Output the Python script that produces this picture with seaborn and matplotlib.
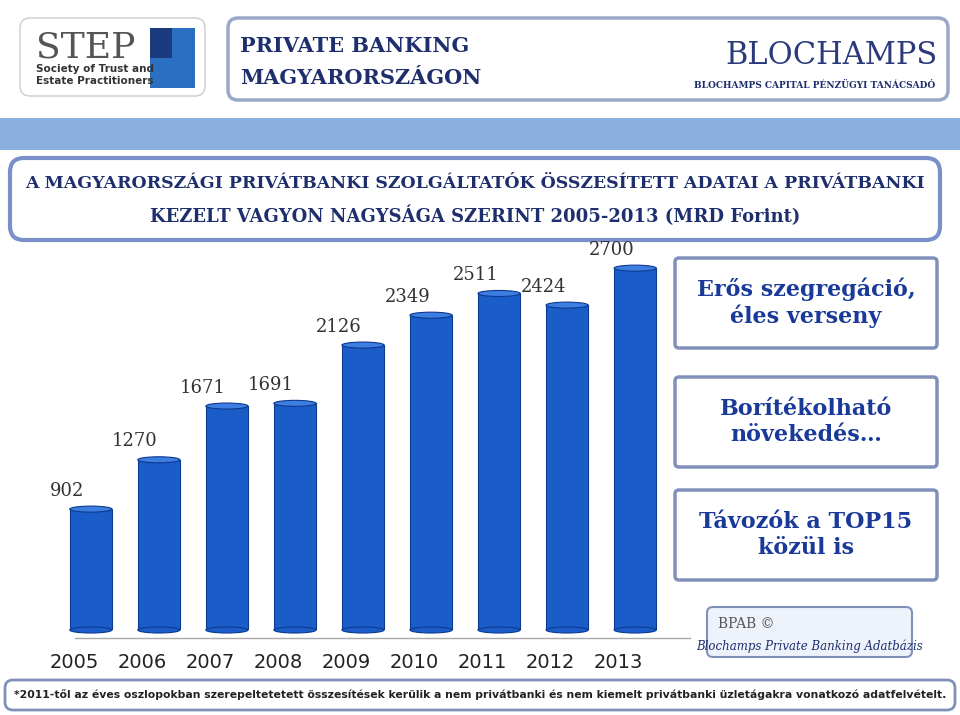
import matplotlib
matplotlib.use("Agg")
import matplotlib.pyplot as plt
import seaborn as sns
import pandas as pd
from matplotlib.patches import FancyBboxPatch, Ellipse, Rectangle

years = ["2005","2006","2007","2008","2009","2010","2011","2012","2013"]
values = [902,1270,1671,1691,2126,2349,2511,2424,2700]
side_notes = ["Erős szegregáció,\néles verseny", "Borítékolható\nnövekedés…", "Távozók a TOP15\nközül is"]

W, H = 960, 715
fig = plt.figure(figsize=(9.6, 7.15), dpi=100)
bg = fig.add_axes([0, 0, 1, 1]); bg.set_xlim(0, W); bg.set_ylim(H, 0); bg.axis("off")
navy = "#1f2f6e"

def rbox(x, y, w, h, fc="white", ec="#8a9cc8", lw=2, r=10):
    bg.add_patch(FancyBboxPatch((x, y), w, h, boxstyle=f"round,pad=0,rounding_size={r}",
                                fc=fc, ec=ec, lw=lw))

# header
rbox(20, 18, 185, 78, ec="#cccccc", lw=1)
bg.text(36, 47, "STEP", fontsize=26, family="DejaVu Serif", color="#555", va="center")
bg.text(36, 75, "Society of Trust and\nEstate Practitioners", fontsize=7.5, color="#333", va="center", weight="bold")
bg.add_patch(Rectangle((150, 28), 45, 60, fc="#2a6fc0"))
bg.add_patch(Rectangle((150, 28), 22, 30, fc="#1b3a80"))
rbox(228, 18, 720, 82, ec="#9aa8c8", lw=2.5)
bg.text(240, 46, "PRIVATE BANKING", fontsize=15, weight="bold", color=navy, family="DejaVu Serif", va="center")
bg.text(240, 78, "MAGYARORSZÁGON", fontsize=15, weight="bold", color=navy, family="DejaVu Serif", va="center")
bg.text(725, 55, "BLOCHAMPS", fontsize=22, color="#2a3a7a", family="DejaVu Serif", va="center")
bg.text(935, 88, "BLOCHAMPS CAPITAL PÉNZÜGYI TANÁCSADÓ", fontsize=6.5, color=navy, ha="right", family="DejaVu Serif", weight="bold")
bg.add_patch(Rectangle((0, 118), W, 32, fc="#8ab0e0", ec="none"))
rbox(10, 158, 930, 82, ec="#7a90c8", lw=3, r=14)
bg.text(475, 183, "A MAGYARORSZÁGI PRIVÁTBANKI SZOLGÁLTATÓK ÖSSZESÍTETT ADATAI A PRIVÁTBANKI",
        fontsize=12.5, weight="bold", color=navy, ha="center", va="center", family="DejaVu Serif")
bg.text(475, 216, "KEZELT VAGYON NAGYSÁGA SZERINT 2005-2013 (MRD Forint)",
        fontsize=13, weight="bold", color=navy, ha="center", va="center", family="DejaVu Serif")

# side boxes
for (y, t) in zip([258, 377, 490], side_notes):
    rbox(675, y, 262, 90, fc="white", ec="#8090b8", lw=2.5, r=4)
    bg.text(806, y + 45, t, fontsize=16, weight="bold", color="#1a3a9a", ha="center", va="center",
            linespacing=1.2, family="DejaVu Serif")
rbox(707, 607, 205, 50, fc="#eef2fa", ec="#8090b8", lw=1.5, r=6)
bg.text(718, 624, "BPAB ©", fontsize=10, color="#555", family="DejaVu Serif", va="center")
bg.text(810, 646, "Blochamps Private Banking Adatbázis", fontsize=8.5, style="italic", color=navy, ha="center", va="center", family="DejaVu Serif")

# footnote
rbox(5, 680, 950, 30, fc="white", ec="#8090b8", lw=2, r=8)
bg.text(480, 695, "*2011-től az éves oszlopokban szerepeltetetett összesítések kerülik a nem privátbanki és nem kiemelt privátbanki üzletágakra vonatkozó adatfelvételt.",
        fontsize=7.8, weight="bold", color="#222", ha="center", va="center")

# chart
ax = fig.add_axes([50/W, 1-630/H, 626/W, 390/H])
df = pd.DataFrame({"year": years, "value": values})
sns.barplot(data=df, x="year", y="value", color="#1a5cc8", width=0.62, ax=ax, saturation=1,
            edgecolor="#0d3a90", linewidth=0.8)
ax.set_ylim(0, 2910)
ax.set_xlim(-0.6, 8.6)
for i, v in enumerate(values):
    ax.add_patch(Ellipse((i, v), 0.62, 45, fc="#3d7ee0", ec="#0d3a90", lw=0.8, zorder=3))
    ax.add_patch(Ellipse((i, 0), 0.62, 45, fc="#1a5cc8", ec="#0d3a90", lw=0.8, zorder=1, clip_on=False))
    ax.text(i - 0.35, v + 70, str(v), fontsize=13, color="#333", ha="center", va="bottom", family="DejaVu Serif")
ax.axis("off")
for i, y in enumerate(years):
    bg.text(74 + i * 68, 662, y, fontsize=14, color="#222", ha="center", va="center")
bg.plot([75, 655, 690], [638, 638, 638], color="#aaaaaa", lw=1)

fig.savefig("out.png", dpi=100)
